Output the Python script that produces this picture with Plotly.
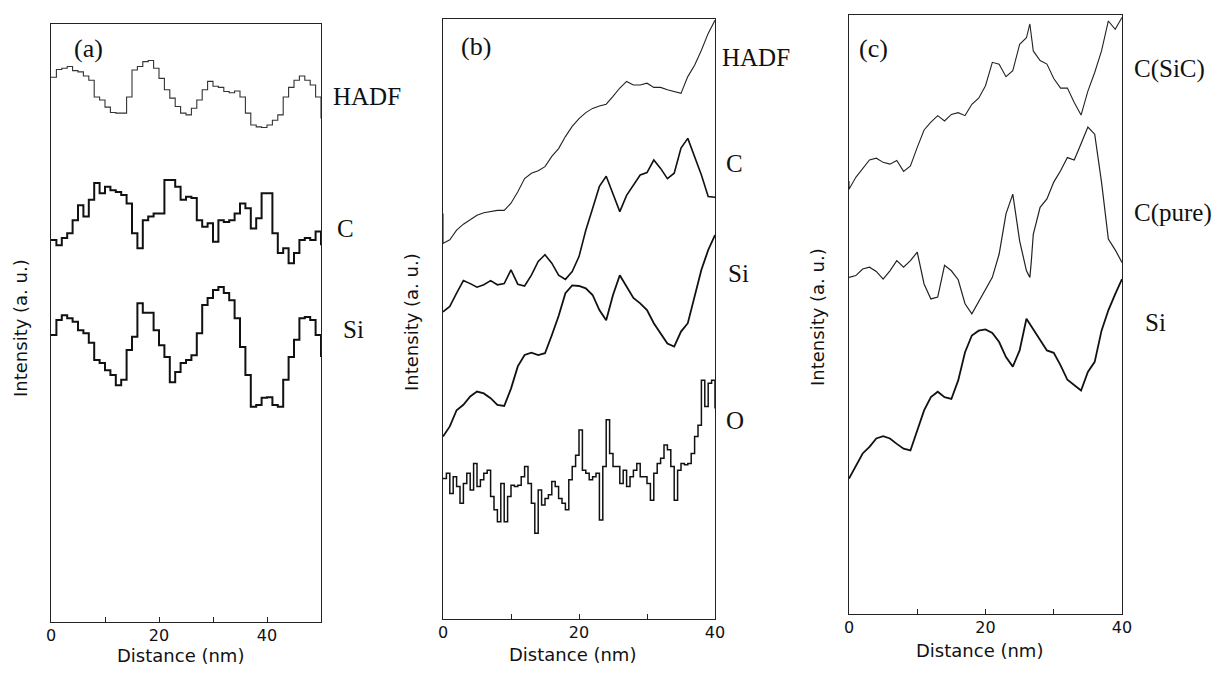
import numpy as np
import plotly.graph_objects as go

# ---------------- data (intensity in arbitrary units, 0-100 scale per panel) ----------------
# Panel (a): distance 0..50 nm, 1 nm steps
A_X = list(range(0, 51))
A_HADF = [91.1, 92.4, 92.6, 92.9, 92.2, 92.0, 91.3, 90.6, 87.8, 87.3,
          86.1, 85.2, 85.1, 85.1, 87.8, 92.3, 92.9, 93.7, 93.9, 92.6,
          90.9, 89.0, 87.6, 86.2, 85.1, 84.8, 85.9, 87.3, 89.0, 90.4,
          89.6, 89.4, 88.7, 88.5, 88.8, 87.8, 85.1, 83.1, 82.8, 82.7,
          83.1, 83.9, 84.8, 87.8, 89.4, 90.6, 91.3, 90.6, 89.8, 87.8, 84.2]
A_C = [63.9, 63.0, 64.2, 65.0, 67.2, 69.7, 67.8, 70.6, 73.4, 71.7,
       72.8, 72.2, 71.9, 71.4, 70.0, 65.0, 62.5, 67.2, 67.8, 68.3,
       68.3, 73.9, 73.9, 72.8, 70.6, 71.1, 70.9, 67.2, 66.1, 66.7,
       63.6, 67.2, 66.9, 67.2, 68.3, 70.0, 69.2, 65.8, 67.5, 71.7,
       71.7, 65.0, 61.7, 62.5, 60.0, 61.7, 63.9, 64.2, 63.9, 65.3, 63.0]
A_SI = [48.0, 50.5, 51.3, 50.8, 50.2, 48.8, 48.3, 46.7, 43.8, 43.3,
        42.1, 41.3, 39.6, 40.5, 45.5, 47.7, 53.3, 51.7, 51.7, 48.8,
        46.3, 44.3, 40.1, 41.8, 43.3, 43.8, 44.6, 48.3, 53.0, 54.2,
        55.5, 56.0, 55.0, 53.8, 50.8, 46.0, 41.3, 36.0, 36.3, 37.5,
        37.6, 36.3, 36.0, 40.5, 44.3, 47.2, 50.8, 51.0, 50.5, 48.0, 44.3]

# Panel (b): distance 0..40 nm
B_X = list(range(0, 41))
B_HADF_X = [0] + list(range(0, 41))
B_HADF = [67.6, 62.6, 63.2, 64.8, 65.8, 66.5, 67.3, 67.7, 67.9, 68.1, 68.1,
          69.3, 71.2, 73.4, 74.3, 74.7, 75.4, 77.1, 78.4, 80.4, 82.1,
          83.4, 84.4, 85.1, 85.5, 85.8, 87.1, 88.5, 89.6, 89.0, 89.0,
          89.3, 88.6, 88.6, 88.2, 87.9, 87.6, 90.4, 92.3, 94.8, 97.6, 99.8]
B_C = [51.2, 52.1, 54.3, 56.4, 55.9, 55.3, 55.7, 56.4, 55.7, 55.9,
       58.2, 55.8, 55.5, 57.3, 59.6, 60.7, 59.3, 57.3, 56.6, 57.9,
       60.4, 64.8, 68.4, 72.1, 73.8, 71.0, 67.9, 70.6, 72.3, 74.0,
       74.4, 76.5, 75.1, 73.4, 74.3, 78.5, 80.1, 77.1, 74.0, 70.4, 70.3]
B_SI = [30.4, 32.1, 34.8, 35.7, 37.1, 37.9, 37.6, 36.8, 35.7, 35.5,
        38.4, 42.1, 44.0, 44.4, 44.0, 44.3, 47.3, 50.5, 54.3, 55.6,
        55.5, 55.1, 54.0, 51.5, 49.8, 54.0, 57.3, 55.4, 53.5, 52.6,
        51.5, 49.3, 47.6, 45.9, 45.4, 47.9, 49.3, 53.7, 58.2, 61.5, 64.0]
B_O_X = [i * 0.5 for i in range(81)]
B_O = [23.4, 24.3, 20.9, 23.7, 22.1, 19.3, 22.6, 24.3, 21.5, 25.9,
       22.1, 23.2, 24.3, 24.8, 20.4, 18.2, 16.2, 22.6, 16.2, 20.4,
       22.3, 22.1, 22.3, 23.7, 25.4, 22.6, 19.3, 14.3, 21.5, 19.0,
       20.1, 20.7, 22.9, 22.1, 20.1, 19.3, 18.2, 23.2, 25.4, 27.3,
       31.5, 24.8, 24.3, 23.2, 23.7, 24.3, 16.5, 25.4, 33.2, 27.6,
       25.4, 25.4, 22.6, 24.8, 22.1, 23.7, 24.8, 25.9, 23.7, 23.7,
       22.6, 19.8, 24.3, 25.9, 26.8, 29.0, 28.2, 25.4, 19.8, 24.8,
       25.9, 25.7, 25.9, 27.6, 30.4, 32.3, 39.8, 35.4, 39.3, 39.8, 35.1]

# Panel (c): distance 0..40 nm
C_SIC_X = [0, 0] + list(range(1, 27)) + [26.5] + list(range(27, 41))
C_SIC = [72.3, 70.9, 72.9, 74.3, 75.8, 76.1, 75.4, 75.1, 75.7, 73.9, 74.8,
         77.9, 80.8, 82.1, 83.2, 82.3, 83.4, 83.7, 83.2, 85.1, 86.1,
         88.2, 92.1, 91.8, 89.7, 90.7, 95.1, 96.2, 98.5, 94.0, 92.4,
         91.8, 89.4, 87.8, 87.8, 85.4, 83.3, 87.3, 90.4, 94.0, 99.0, 97.6, 99.6]
C_PURE_X = list(range(0, 27)) + [26.5, 26.7] + list(range(27, 41))
C_PURE = [56.2, 56.5, 57.6, 57.9, 57.2, 55.9, 57.3, 59.0, 57.9, 59.0,
          60.4, 55.1, 52.6, 52.9, 58.2, 57.3, 55.8, 51.8, 50.1, 52.1,
          54.3, 56.2, 60.1, 66.8, 70.1, 62.3, 57.3, 56.2, 58.7, 63.4,
          67.9, 69.3, 72.1, 74.0, 76.2, 75.8, 78.5, 81.3, 80.1, 72.1,
          62.6, 60.8, 58.7]
C_X = list(range(0, 41))
C_SI = [22.6, 24.7, 26.8, 27.9, 29.3, 29.7, 29.3, 28.4, 27.6, 27.3,
        30.7, 34.0, 36.2, 37.1, 36.2, 35.9, 39.0, 43.7, 46.5, 47.3,
        47.5, 46.9, 45.4, 42.9, 41.3, 44.0, 49.3, 47.6, 45.7, 44.0,
        43.6, 41.5, 39.1, 38.2, 37.3, 40.4, 42.1, 47.3, 50.7, 53.4, 55.9]

A_TICKS = [0, 10, 20, 30, 40, 50]
A_TICKTEXT = ["0", "", "20", "", "40", ""]
BC_TICKS = [0, 10, 20, 30, 40]
BC_TICKTEXT = ["0", "", "20", "", "40"]
X_TITLE = "Distance (nm)"
Y_TITLE = "Intensity (a. u.)"

# ---------------- figure ----------------
# The page body keeps an 8px margin, so the figure is 16px smaller than the window
OFF = 8
W, H = 1223 - 2 * OFF, 674 - 2 * OFF
fig = go.Figure()

def line(x, y, xa, ya, width, color="#111", shape="linear"):
    fig.add_trace(go.Scatter(x=x, y=y, xaxis=xa, yaxis=ya, mode="lines",
                             line=dict(color=color, width=width, shape=shape),
                             showlegend=False, hoverinfo="skip"))

line(A_X, A_HADF, "x", "y", 1.1, "#333", "hv")
line(A_X, A_C, "x", "y", 2.0, "#111", "hv")
line(A_X, A_SI, "x", "y", 2.0, "#111", "hv")

line(B_HADF_X, B_HADF, "x2", "y2", 1.1, "#222")
line(B_X, B_C, "x2", "y2", 1.6, "#111")
line(B_X, B_SI, "x2", "y2", 1.8, "#111")
line(B_O_X, B_O, "x2", "y2", 1.5, "#111", "hv")

line(C_SIC_X, C_SIC, "x3", "y3", 1.1, "#222")
line(C_PURE_X, C_PURE, "x3", "y3", 1.2, "#222")
line(C_X, C_SI, "x3", "y3", 1.8, "#111")

def px_x(p):
    return (p - OFF) / W

def px_y(p):
    return 1 - (p - OFF) / H

sans = "DejaVu Sans"
serif = "Liberation Serif"
tickfont = dict(family=sans, size=16, color="#111")
titlefont = dict(family=sans, size=18, color="#111")

panels = [
    # (xaxis key, yaxis key, left, right, top, bottom, xrange, ticks, ticktext)
    ("xaxis", "yaxis", 51, 321, 24, 622, [0, 50], A_TICKS, A_TICKTEXT),
    ("xaxis2", "yaxis2", 443, 715, 19, 619, [0, 40], BC_TICKS, BC_TICKTEXT),
    ("xaxis3", "yaxis3", 849, 1122, 15, 614, [0, 40], BC_TICKS, BC_TICKTEXT),
]
layout = dict(width=W, height=H, margin=dict(l=0, r=0, t=0, b=0),
              paper_bgcolor="white", plot_bgcolor="white", showlegend=False)
for i, (xk, yk, l, r, t, b, xr, tv, tt) in enumerate(panels):
    yname = "y" if i == 0 else "y%d" % (i + 1)
    xname = "x" if i == 0 else "x%d" % (i + 1)
    layout[xk] = dict(domain=[px_x(l), px_x(r)], range=xr, anchor=yname,
                      showgrid=False, zeroline=False, showline=True,
                      linecolor="#222", linewidth=1, mirror=True,
                      ticks="inside", ticklen=5, tickwidth=1, tickcolor="#222",
                      tickvals=tv, ticktext=tt, tickfont=tickfont,
                      ticklabelstandoff=-1,
                      automargin=False, fixedrange=True)
    layout[yk] = dict(domain=[px_y(b), px_y(t)], range=[0, 100], anchor=xname,
                      showgrid=False, zeroline=False, showline=True,
                      linecolor="#222", linewidth=1, mirror=True,
                      showticklabels=False, ticks="",
                      automargin=False, fixedrange=True)

annotations = []
# axis titles (centre positions in window pixels)
x_titles = [(180, 655), (572, 654), (979, 650)]
y_titles = [(20, 328), (411, 322), (817, 317)]
for x, y in x_titles:
    annotations.append(dict(text=X_TITLE, x=px_x(x), y=px_y(y), xref="paper", yref="paper",
                            xanchor="center", yanchor="middle", showarrow=False,
                            font=titlefont))
for x, y in y_titles:
    annotations.append(dict(text=Y_TITLE, x=px_x(x), y=px_y(y), xref="paper", yref="paper",
                            xanchor="center", yanchor="middle", showarrow=False,
                            textangle=-90, font=titlefont))

labels = [
    ("(a)", 72, 48, 26),
    ("HADF", 331, 97, 25),
    ("C", 335, 228, 25),
    ("Si", 341, 329, 25),
    ("(b)", 459, 46, 26),
    ("HADF", 720, 57, 25),
    ("C", 724, 163, 25),
    ("Si", 726, 273, 25),
    ("O", 724, 420, 25),
    ("(c)", 857, 48, 26),
    ("C(SiC)", 1132, 69, 25),
    ("C(pure)", 1132, 213, 25),
    ("Si", 1143, 322, 25),
]
for text, x, y, size in labels:
    annotations.append(dict(text=text, x=px_x(x), y=px_y(y), xref="paper", yref="paper",
                            xanchor="left", yanchor="middle", showarrow=False,
                            font=dict(family=serif, size=size, color="#111")))
layout["annotations"] = annotations

fig.update_layout(**layout)
fig.write_html("out.html")
